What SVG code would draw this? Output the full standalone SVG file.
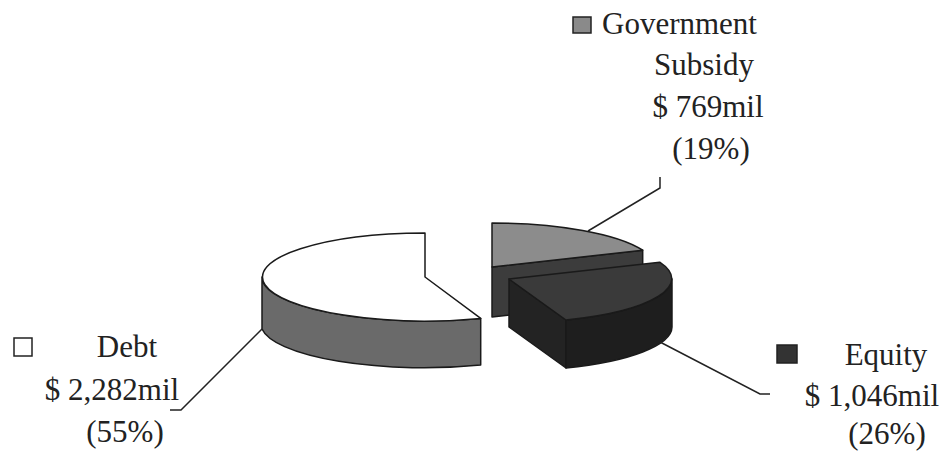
<svg xmlns="http://www.w3.org/2000/svg" width="948" height="453" viewBox="0 0 948 453">
<style>
.lbl{font-family:"Liberation Serif","Times New Roman",serif;font-size:31px;fill:#222}
.edge{stroke:#1a1a1a;stroke-width:1.5;stroke-linejoin:round}
.lead{fill:none;stroke:#222;stroke-width:1.5}
.key{stroke:#222;stroke-width:1.5}
</style>
<rect width="948" height="453" fill="#fff"/>
<g id="slice-government">
<path class="edge" d="M492,267 L642.7,250.2 L642.7,300.2 L492,317 Z" fill="#3c3c3c"/>
<path class="edge" d="M492,267 L492,223 A163,44 0 0,1 642.7,250.2 Z" fill="#8c8c8c"/>
</g>
<g id="slice-debt">
<path class="edge" d="M262,277 A163,44 0 0,0 480.7,318.4 L480.7,365 A163,44 0 0,1 262,329 Z" fill="#6a6a6a"/>
<path class="edge" d="M425,277 L425,233 A163,44 0 1,0 480.7,318.4 Z" fill="#fff"/>
</g>
<g id="slice-equity">
<path class="edge" d="M509,279 L566,320 L566,368 L509,327 Z" fill="#232323"/>
<path class="edge" d="M672,279 A163,44 0 0,1 566,320 L566,368 A163,44 0 0,0 672,327 Z" fill="#1e1e1e"/>
<path class="edge" d="M509,279 L659.7,262.2 A163,44 0 0,1 566,320 Z" fill="#3a3a3a"/>
</g>
<g id="connectors">
<polyline class="lead" points="588,231 660,188 660,177"/>
<polyline class="lead" points="262,329 181,410 170,410"/>
<polyline class="lead" points="660,342 760,394 770,394"/>
</g>
<g id="label-government">
<rect class="key" x="573" y="17" width="18" height="16" fill="#8a8a8a"/>
<text class="lbl" x="602" y="34">Government</text>
<text class="lbl" x="704" y="75" text-anchor="middle">Subsidy</text>
<text class="lbl" x="708" y="117" text-anchor="middle">$ 769mil</text>
<text class="lbl" x="711" y="159" text-anchor="middle">(19%)</text>
</g>
<g id="label-debt">
<rect class="key" x="14" y="338" width="18" height="18" fill="#fff"/>
<text class="lbl" x="127" y="357" text-anchor="middle">Debt</text>
<text class="lbl" x="112" y="400" text-anchor="middle">$ 2,282mil</text>
<text class="lbl" x="125" y="442" text-anchor="middle">(55%)</text>
</g>
<g id="label-equity">
<rect class="key" x="777" y="345" width="20" height="18" fill="#333"/>
<text class="lbl" x="886" y="365" text-anchor="middle">Equity</text>
<text class="lbl" x="872" y="406" text-anchor="middle">$ 1,046mil</text>
<text class="lbl" x="887" y="444" text-anchor="middle">(26%)</text>
</g>
</svg>
